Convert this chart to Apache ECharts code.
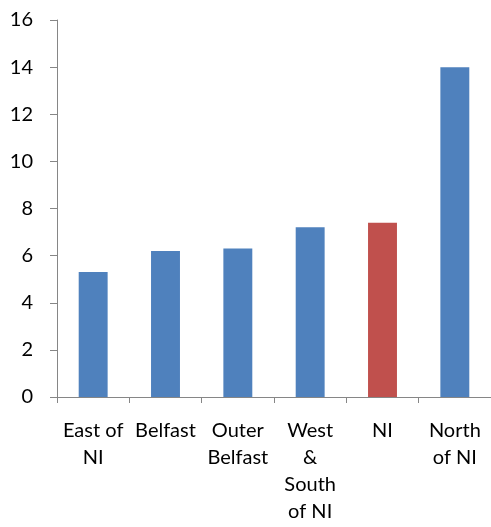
<!DOCTYPE html>
<html>
<head>
<meta charset="utf-8">
<script src="https://cdn.jsdelivr.net/npm/echarts@6/dist/echarts.min.js"></script>
<style>
  html, body { margin: 0; padding: 0; background: #fff; }
  #main { width: 491px; height: 527px; }
</style>
</head>
<body>
<div id="main"></div>
<script>
// categories and values
let regions = ['East of\nNI', 'Belfast', 'Outer\nBelfast', 'West\n&\nSouth\nof NI', 'NI', 'North\nof NI']
let values = [5.3, 6.2, 6.3, 7.2, 7.4, 14.0]
let highlight = 'NI'   // the NI average bar is drawn in red
let yTicks = [0, 2, 4, 6, 8, 10, 12, 14, 16]

let chart = echarts.init(document.getElementById('main'))

let barData = values.map((v, i) => ({
    value: v,
    itemStyle: { color: regions[i] === highlight ? '#C0504D' : '#4F81BD' }
}))

let option = {
    animation: false,
    textStyle: { fontFamily: 'Lato' },
    grid: {
        left: 57,
        top: 20,
        width: 437,
        bottom: 130
    },
    xAxis: {
        type: 'category',
        data: regions,
        axisLine: { lineStyle: { color: '#868686', width: 1 } },
        axisTick: { show: true, length: 6, alignWithLabel: false, lineStyle: { color: '#868686' } },
        axisLabel: {
            color: '#000',
            fontSize: 20,
            lineHeight: 27,
            margin: 20,
            interval: 0
        }
    },
    yAxis: {
        type: 'value',
        min: yTicks[0],
        max: yTicks[yTicks.length - 1],
        interval: 2,
        splitLine: { show: false },
        axisLine: { show: true, lineStyle: { color: '#868686', width: 1 } },
        axisTick: { show: true, length: 7, lineStyle: { color: '#868686' } },
        axisLabel: {
            color: '#000',
            fontSize: 20,
            margin: 24
        }
    },
    series: [
        {
            type: 'bar',
            data: barData,
            barWidth: '40%',
            silent: true
        }
    ]
}

chart.setOption(option)
</script>
</body>
</html>
